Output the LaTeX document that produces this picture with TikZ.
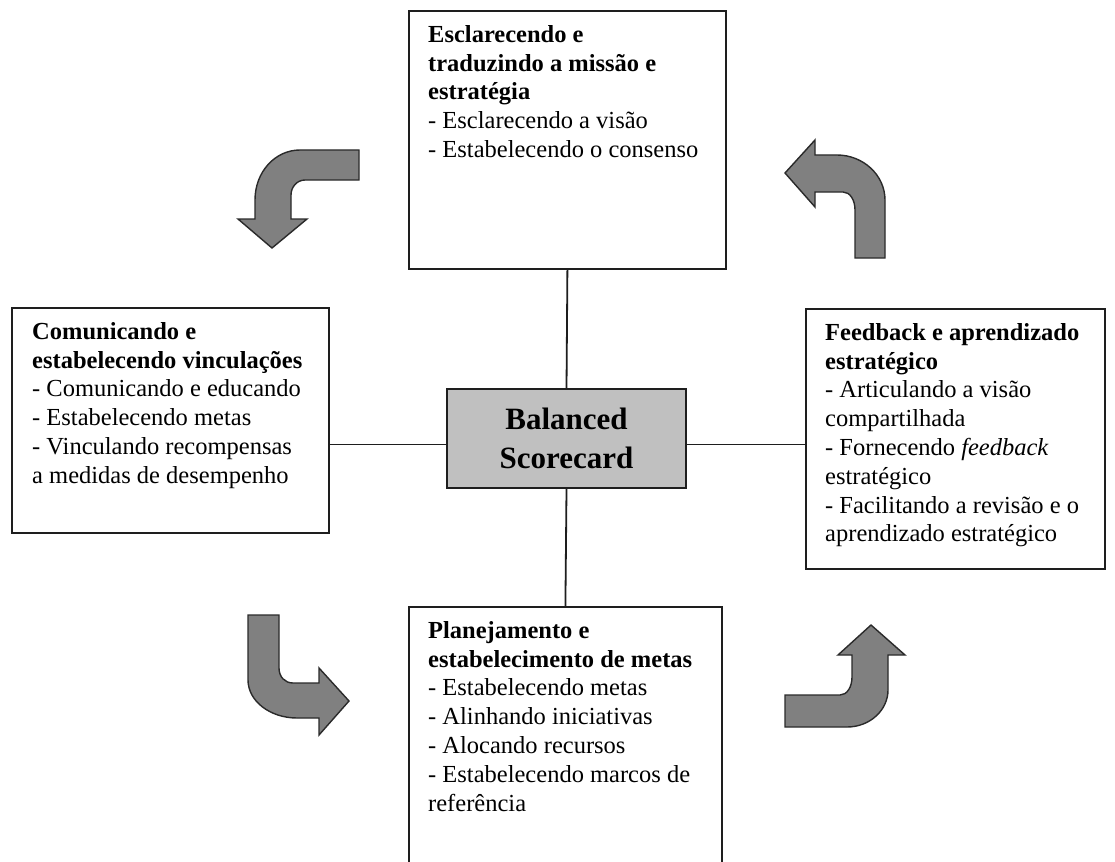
\documentclass[tikz,border=0pt]{standalone}
\usepackage{fontspec}
\setmainfont{Liberation Serif}
\definecolor{boxline}{HTML}{1E1E1E}
\definecolor{centerfill}{HTML}{C0C0C0}
\definecolor{arrowfill}{HTML}{808080}
\definecolor{arrowline}{HTML}{2A2A2A}
\begin{document}
\begin{tikzpicture}[x=1pt,y=-1pt,
  panel/.style={draw=boxline, line width=1.8pt, fill=white, rectangle, anchor=north west, inner sep=0pt},
  centerbox/.style={draw=boxline, line width=1.8pt, fill=centerfill, rectangle, inner sep=0pt,
    minimum width=239pt, minimum height=99pt, align=center,
    font=\fontsize{31}{39}\selectfont\bfseries},
  paneltext/.style={anchor=north west, inner sep=0pt, align=left,
    font=\fontsize{24.5}{28.8}\selectfont},
  link/.style={draw=boxline, line width=1.8pt},
  bentarrow/.style={fill=arrowfill, draw=arrowline, line width=1.4pt, line join=miter}
]
\useasboundingbox (0,0) rectangle (1115,861);
\clip (0,0) rectangle (1115,861);
\fill[white] (0,0) rectangle (1115,861);

\node[centerbox] (cb) at (566.5,438.5) {Balanced\\Scorecard};

\node[panel, minimum width=317pt, minimum height=258pt] (tb) at (408,10) {};
\node[panel, minimum width=317pt, minimum height=225pt] (lb) at (11,307) {};
\node[panel, minimum width=299pt, minimum height=260pt] (rb) at (805,308) {};
\node[panel, minimum width=313pt, minimum height=280pt] (bb) at (408,606) {};

\draw[link] (cb.north) -- (tb.south);
\draw[link] (cb.south) -- (bb.north);
\draw[link] ([yshift=-6pt]cb.west) -- ([yshift=-6pt]cb.west -| lb.east);
\draw[link] ([yshift=-6pt]cb.east) -- ([yshift=-6pt]cb.east -| rb.west);

\node[paneltext] (tbt) at ([shift={(20,12)}]tb.north west)
  {\strut\textbf{Esclarecendo e}\\
   \textbf{traduzindo a missão e}\\
   \textbf{estratégia}\\
   - Esclarecendo a visão\\
   - Estabelecendo o consenso};

\node[paneltext] (lbt) at ([shift={(21,12)}]lb.north west)
  {\strut\textbf{Comunicando e}\\
   \textbf{estabelecendo vinculações}\\
   - Comunicando e educando\\
   - Estabelecendo metas\\
   - Vinculando recompensas\\
   a medidas de desempenho};

\node[paneltext] (rbt) at ([shift={(20,12)}]rb.north west)
  {\strut\textbf{Feedback e aprendizado}\\
   \textbf{estratégico}\\
   - Articulando a visão\\
   compartilhada\\
   - Fornecendo \textit{feedback}\\
   estratégico\\
   - Facilitando a revisão e o\\
   aprendizado estratégico};

\node[paneltext] (bbt) at ([shift={(20,12)}]bb.north west)
  {\strut\textbf{Planejamento e}\\
   \textbf{estabelecimento de metas}\\
   - Estabelecendo metas\\
   - Alinhando iniciativas\\
   - Alocando recursos\\
   - Estabelecendo marcos de\\
   referência};

% bent arrows
\draw[bentarrow] (359,150) -- (300,150) .. controls (275,150) and (255,172) .. (255,200)
  -- (255,219) -- (238,219) -- (272,248) -- (307,219) -- (291,219) -- (291,195)
  .. controls (291,187) and (297,180) .. (305,180) -- (359,180) -- cycle;

\draw[bentarrow] (855,258) -- (885,258) -- (885,200) .. controls (885,175) and (863,155) .. (837,155)
  -- (815,155) -- (815,140) -- (785,173) -- (815,207) -- (815,192) -- (843,192)
  .. controls (850,192) and (855,200) .. (855,210) -- cycle;

\draw[bentarrow] (248,615) -- (248,680) .. controls (248,701) and (270,718) .. (297,718)
  -- (319,718) -- (319,735) -- (349,701) -- (319,668) -- (319,683) -- (293,683)
  .. controls (285,683) and (279,677) .. (279,668) -- (279,615) -- cycle;

\draw[bentarrow] (785,695) -- (840,695) .. controls (847,695) and (852,687) .. (852,677)
  -- (852,655) -- (838,655) -- (871,625) -- (905,655) -- (888,655) -- (888,690)
  .. controls (888,710) and (870,727) .. (847,727) -- (785,727) -- cycle;
\end{tikzpicture}
\end{document}
